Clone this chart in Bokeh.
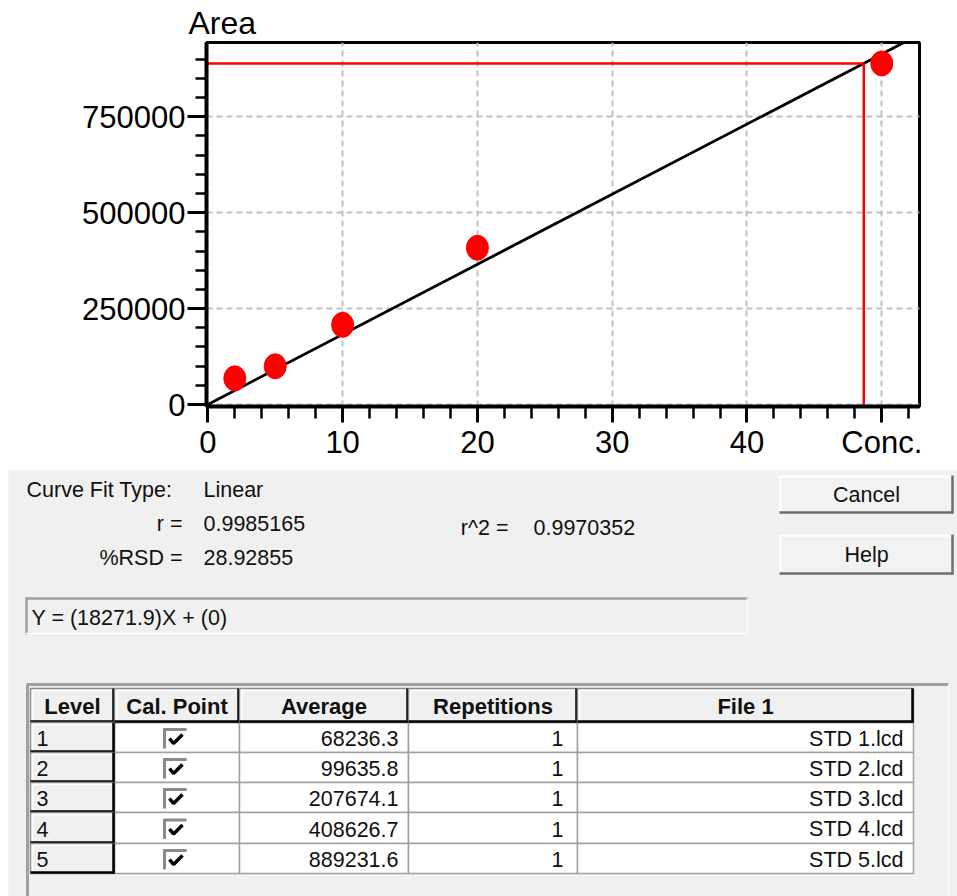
from bokeh.plotting import figure
from bokeh.models import Range1d, FixedTicker, BasicTickFormatter
from bokeh.layouts import column
from bokeh.core.properties import value
from bokeh.embed import file_html
from bokeh.resources import INLINE

# ---------------- data ----------------
levels = ["1", "2", "3", "4", "5"]
conc = [2, 5, 10, 20, 50]
area = [68236.3, 99635.8, 207674.1, 408626.7, 889231.6]
repetitions = [1, 1, 1, 1, 1]
files = ["STD 1.lcd", "STD 2.lcd", "STD 3.lcd", "STD 4.lcd", "STD 5.lcd"]
slope = 18271.9
intercept = 0
fit_type = "Linear"
r_text = "0.9985165"
r2_text = "0.9970352"
rsd_text = "28.92855"
x_major = [0, 10, 20, 30, 40, 50]
x_minor = list(range(0, 54, 2))
y_major = [0, 250000, 500000, 750000]
y_minor = list(range(0, 950001, 50000))
x_tick_overrides = {50: "Conc."}
headers = ["Level", "Cal. Point", "Average", "Repetitions", "File 1"]

FONT = "Liberation Sans"

# ---------------- chart ----------------
x_lo, x_hi = -0.1, 52.8
y_lo, y_hi = -5200, 943700
CHART_H = 42 + 364 + 60

p = figure(frame_width=713, frame_height=364,
           min_border_left=206, min_border_right=38,
           min_border_top=42, min_border_bottom=60,
           x_range=Range1d(x_lo, x_hi), y_range=Range1d(y_lo, y_hi),
           toolbar_location=None, output_backend="svg",
           background_fill_color="white", border_fill_color="white")
p.frame_align = False

p.title.text = "Area"
p.title.align = "left"
p.title.offset = -18
p.title.standoff = 4
p.title.text_font = FONT
p.title.text_font_size = "32px"
p.title.text_font_style = "normal"
p.title.text_color = "black"

p.outline_line_color = "black"
p.outline_line_width = 3
p.outline_line_alpha = 1

for ax in (p.xaxis[0], p.yaxis[0]):
    ax.axis_line_width = 4
    ax.axis_line_color = "black"
    ax.major_tick_line_width = 3
    ax.minor_tick_line_width = 2.5
    ax.major_tick_line_color = "black"
    ax.minor_tick_line_color = "black"
    ax.major_tick_in = 0
    ax.minor_tick_in = 0
    ax.major_label_text_font = FONT
    ax.major_label_text_font_size = "31px"
    ax.major_label_text_color = "black"
    ax.major_label_standoff = 2

p.xaxis.major_tick_out = 16
p.xaxis.minor_tick_out = 12
p.yaxis.major_tick_out = 19
p.yaxis.minor_tick_out = 11
p.xaxis.ticker = FixedTicker(ticks=x_major, minor_ticks=x_minor)
p.yaxis.ticker = FixedTicker(ticks=y_major, minor_ticks=y_minor)
p.xaxis.major_label_overrides = x_tick_overrides
p.yaxis.formatter = BasicTickFormatter(use_scientific=False)

for g in (p.xgrid[0], p.ygrid[0]):
    g.grid_line_color = "#c0c0c0"
    g.grid_line_dash = "6 4"
    g.grid_line_width = 2

# fitted line
p.line([0, x_hi], [intercept, slope * x_hi + intercept], line_color="black", line_width=2.8)

# read-back of the last standard
marker_area = area[-1]
marker_conc = (marker_area - intercept) / slope
p.line([x_lo, marker_conc], [marker_area, marker_area], line_color="#ff0000", line_width=2.5)
p.line([marker_conc, marker_conc], [y_lo, marker_area], line_color="#ff0000", line_width=2.5)

# calibration points
p.ellipse(conc, area, width=22, height=25, width_units="screen", height_units="screen",
          fill_color="#ff0000", line_color="#ff0000")

# ---------------- dialog ----------------
d = figure(width=957, height=896 - CHART_H, x_range=Range1d(0, 957), y_range=Range1d(896, CHART_H),
           x_axis_location=None, y_axis_location=None,
           toolbar_location=None, output_backend="svg", min_border=0,
           min_border_left=0, min_border_right=0, min_border_top=0, min_border_bottom=0,
           background_fill_color="white", border_fill_color="white")
d.frame_align = False
d.grid.visible = False
d.outline_line_color = None

GRAY = "#f0f0f0"
TS = "21.5px"


def txt(x, y, s, align="left", bold=False, size=TS, color="#111111"):
    d.text(x=[x], y=[y], text=[s], text_align=align, text_baseline="middle",
           text_font=value(FONT), text_font_size=size,
           text_font_style="bold" if bold else "normal", text_color=color)


def hline(x0, x1, y, color, w):
    d.line([x0, x1], [y, y], line_color=color, line_width=w)


def vline(x, y0, y1, color, w):
    d.line([x, x], [y0, y1], line_color=color, line_width=w)


# background
d.quad(left=[8], right=[957], top=[470], bottom=[896], fill_color=GRAY, line_color=None)

# labels
txt(26, 489, "Curve Fit Type:")
txt(203, 489, fit_type)
txt(182, 523, "r =", align="right")
txt(203, 523, r_text)
txt(182, 557, "%RSD =", align="right")
txt(203, 557, rsd_text)
txt(508, 527, "r^2 =", align="right")
txt(533, 527, r2_text)

# equation box
d.quad(left=[25], right=[748], top=[597], bottom=[634], fill_color=GRAY, line_color=None)
hline(25, 748, 598, "#a0a0a0", 2.5)
vline(26, 597, 634, "#a0a0a0", 2.5)
hline(25, 748, 633, "#fcfcfc", 1.5)
vline(747, 597, 634, "#fcfcfc", 1.5)
slope_str = f"{slope:g}"
icpt_str = f"{intercept:g}"
txt(31, 617, f"Y = ({slope_str})X + ({icpt_str})")


# buttons
def button(x0, x1, y0, y1, label):
    d.quad(left=[x0], right=[x1], top=[y0], bottom=[y1], fill_color="#f2f2f2", line_color=None)
    hline(x0, x1, y0 + 1, "#ffffff", 2)
    vline(x0 + 1, y0, y1, "#ffffff", 2)
    hline(x0, x1, y1 - 1, "#6e6e6e", 2.5)
    vline(x1 - 1, y0, y1, "#6e6e6e", 2.5)
    txt((x0 + x1) / 2, (y0 + y1) / 2, label, align="center")


button(779, 953, 475, 513, "Cancel")
button(779, 953, 534, 574, "Help")

# table panel
hline(26, 948, 684, "#a0a0a0", 3)
vline(27, 684, 896, "#a0a0a0", 3)
vline(948, 684, 896, "#fdfdfd", 1.5)

col_x = [30, 114, 239, 408, 577, 913]
head_top, head_bot = 688, 722
row_y = [722, 752, 782, 812, 843, 873]


def header_cell(x0, x1, y0, y1):
    d.quad(left=[x0], right=[x1], top=[y0], bottom=[y1], fill_color=GRAY,
           line_color="#8a8a8a", line_width=1.5)
    hline(x0 + 2, x1 - 1, y0 + 2, "#ffffff", 1.5)
    vline(x0 + 2, y0 + 2, y1 - 1, "#ffffff", 1.5)
    hline(x0, x1, y1 - 1, "#000000", 2.5)
    vline(x1 - 1, y0, y1, "#000000", 2.5)


# data cells
lefts, rights, tops, bots = [], [], [], []
for i in range(len(levels)):
    for j in range(1, len(col_x) - 1):
        lefts.append(col_x[j]); rights.append(col_x[j + 1])
        tops.append(row_y[i]); bots.append(row_y[i + 1])
d.quad(left=lefts, right=rights, top=tops, bottom=bots, fill_color="white",
       line_color="#a0a0a0", line_width=1.5)

# header row
for j, h in enumerate(headers):
    header_cell(col_x[j], col_x[j + 1], head_top, head_bot)
    txt((col_x[j] + col_x[j + 1]) / 2, (head_top + head_bot) / 2 + 1, h, align="center",
        bold=True, size="22px")

for i, lv in enumerate(levels):
    y0, y1 = row_y[i], row_y[i + 1]
    yc = (y0 + y1) / 2
    header_cell(col_x[0], col_x[1], y0, y1)
    txt(36, yc + 1, lv)
    # checkbox
    d.quad(left=[163], right=[186], top=[yc - 9], bottom=[yc + 11], fill_color="white", line_color=None)
    hline(163, 186, yc - 8, "#8a8a8a", 3)
    vline(164, yc - 9, yc + 11, "#8a8a8a", 3)
    d.line([169, 173, 182], [yc + 1, yc + 6, yc - 3], line_color="black", line_width=3.5)
    txt(398, yc + 1, f"{area[i]:.1f}", align="right")
    txt(563, yc + 1, str(repetitions[i]), align="right")
    txt(903, yc + 1, files[i], align="right")

layout = column(p, d, spacing=0)
open("out.html", "w").write(file_html(layout, INLINE))
